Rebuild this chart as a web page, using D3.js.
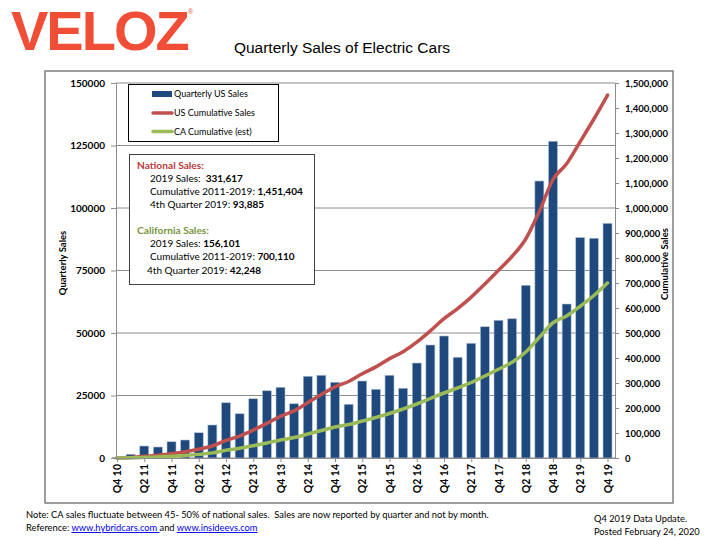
<!DOCTYPE html>
<html><head><meta charset="utf-8">
<script src="https://cdn.jsdelivr.net/npm/d3@7"></script>
<style>
html,body{margin:0;padding:0;background:#fff;}
svg{display:block;}
</style></head>
<body>
<svg id="chart" width="716" height="537"></svg>
<script>
const categories = ["Q4 10","Q1 11","Q2 11","Q3 11","Q4 11","Q1 12","Q2 12","Q3 12","Q4 12",
  "Q1 13","Q2 13","Q3 13","Q4 13","Q1 14","Q2 14","Q3 14","Q4 14","Q1 15","Q2 15","Q3 15","Q4 15",
  "Q1 16","Q2 16","Q3 16","Q4 16","Q1 17","Q2 17","Q3 17","Q4 17","Q1 18","Q2 18","Q3 18","Q4 18",
  "Q1 19","Q2 19","Q3 19","Q4 19"];
const quarterlyUS = [350,1500,4800,4400,6500,7200,10100,13200,22100,
  17700,23700,26900,28300,21700,32700,33100,30300,21500,30800,27500,33100,
  27900,38000,45200,48800,40300,45900,52500,55100,55700,69100,110800,126700,
  61600,88200,87900,93885];
const cumulativeUS = [0,1900,6700,11100,17600,24800,34900,48100,70200,
  87900,111600,138500,166800,188500,221200,254300,284600,306100,336900,364400,397500,
  425400,463400,508600,557400,597700,643600,696100,751200,806900,876000,987000,1114000,
  1177000,1266000,1356000,1451404];
const cumulativeCA = [0,700,2500,4500,7000,10000,14500,20500,31000,
  39000,49000,60000,72000,82000,96000,110000,124000,134000,148000,162000,178000,
  196000,216000,238000,260000,280000,302000,328000,355000,383000,424000,483000,541000,
  568000,607000,650000,700110];
const leftTicks = [0,25000,50000,75000,100000,125000,150000];
const rightTicks = [0,100000,200000,300000,400000,500000,600000,700000,800000,900000,1000000,1100000,1200000,1300000,1400000,1500000];
const seriesNames = ["Quarterly US Sales","US Cumulative Sales","CA Cumulative (est)"];
const nationalLines = [["2019 Sales:  ","331,617"],["Cumulative 2011-2019: ","1,451,404"],["4th Quarter 2019: ","93,885"]];
const californiaLines = [["2019 Sales: ","156,101"],["Cumulative 2011-2019: ","700,110"],["4th Quarter 2019: ","42,248"]];

const BAR = "#1F497D", RED = "#C0504D", GREEN = "#9BBB59";
const svg = d3.select("#chart");
const F = "Lato, 'Open Sans', sans-serif";

// outer frame
svg.append("rect").attr("x",45).attr("y",71).attr("width",628).attr("height",432)
  .attr("fill","#fff").attr("stroke","#7f7f7f").attr("stroke-width",1.5);

// logo
svg.append("text").attr("x",11).attr("y",50)
  .attr("font-family","'Liberation Sans', Arial, sans-serif").attr("font-weight","bold")
  .attr("font-size",56).attr("fill","#F04E37").attr("letter-spacing",-2).text("VELOZ");
svg.append("text").attr("x",188).attr("y",14).attr("font-family","'Liberation Sans', Arial")
  .attr("font-size",7).attr("fill","#F04E37").text("®");

// title
svg.append("text").attr("x",342).attr("y",53).attr("text-anchor","middle")
  .attr("font-family","'Liberation Sans', Arial, sans-serif").attr("font-size",15.5).attr("fill","#000")
  .text("Quarterly Sales of Electric Cars");

const x = d3.scalePoint().domain(categories).range([117, 607.5]);
const yL = d3.scaleLinear().domain([0,150000]).range([458,83]);
const yR = d3.scaleLinear().domain([0,1500000]).range([458,83]);
const left = 116, right = 615;

// gridlines
svg.append("g").selectAll("line").data(leftTicks).join("line")
  .attr("x1",left).attr("x2",right).attr("y1",d=>yL(d)).attr("y2",d=>yL(d))
  .attr("stroke","#8c8c8c").attr("stroke-width",1);

// bars
const bw = 9;
svg.append("g").selectAll("rect").data(quarterlyUS).join("rect")
  .attr("x",(d,i)=>x(categories[i])-bw/2).attr("width",bw)
  .attr("y",d=>yL(d)).attr("height",d=>yL(0)-yL(d))
  .attr("fill",BAR).attr("stroke","#b4c4d8").attr("stroke-width",0.6);

// lines
const line = d3.line().x((d,i)=>x(categories[i])).y(d=>yR(d)).curve(d3.curveMonotoneX);
svg.append("path").datum(cumulativeUS).attr("d",line).attr("fill","none")
  .attr("stroke",RED).attr("stroke-width",3.5).attr("stroke-linejoin","round").attr("stroke-linecap","round");
svg.append("path").datum(cumulativeCA).attr("d",line).attr("fill","none")
  .attr("stroke",GREEN).attr("stroke-width",3.5).attr("stroke-linejoin","round").attr("stroke-linecap","round");

// axes
const axisColor = "#8c8c8c";
const gL = svg.append("g").attr("transform",`translate(${left},0)`)
  .call(d3.axisLeft(yL).tickValues(leftTicks).tickSize(5).tickPadding(6).tickFormat(d3.format("d")));
const gR = svg.append("g").attr("transform",`translate(${right},0)`)
  .call(d3.axisRight(yR).tickValues(rightTicks).tickSize(4).tickPadding(6).tickFormat(d3.format(",")));
const labeled = categories.filter((c,i)=>i%2===0);
const gX = svg.append("g").attr("transform",`translate(0,458)`)
  .call(d3.axisBottom(x).tickValues(labeled).tickSize(4).tickPadding(4));
gX.select(".domain").attr("d",`M${left},0.5H${right}`);
[gL,gR,gX].forEach(g=>{
  g.selectAll(".domain").attr("stroke",axisColor);
  g.selectAll(".tick line").attr("stroke",axisColor);
  g.selectAll("text").attr("font-family",F).attr("font-weight","bold").attr("fill","#000");
});
gL.selectAll("text").attr("font-size",10);
gR.selectAll("text").attr("font-size",9.5);
gX.selectAll("text").attr("font-size",10.5)
  .attr("transform","rotate(-90)").attr("text-anchor","end")
  .attr("x",-6).attr("y",0).attr("dy","0.35em");

// axis titles
svg.append("text").attr("transform","translate(66,263) rotate(-90)").attr("text-anchor","middle")
  .attr("font-family",F).attr("font-weight","bold").attr("font-size",9.5).text("Quarterly Sales");
svg.append("text").attr("transform","translate(668,264) rotate(-90)").attr("text-anchor","middle")
  .attr("font-family",F).attr("font-weight","bold").attr("font-size",9.5).text("Cumulative Sales");

// legend
const lg = svg.append("g");
lg.append("rect").attr("x",128.5).attr("y",84.5).attr("width",150).attr("height",57)
  .attr("fill","#fff").attr("stroke","#000").attr("stroke-width",1);
const legY = [94,113,131.5];
lg.append("rect").attr("x",152).attr("y",legY[0]-3).attr("width",20).attr("height",6).attr("fill",BAR);
lg.append("line").attr("x1",153).attr("x2",172).attr("y1",legY[1]).attr("y2",legY[1])
  .attr("stroke",RED).attr("stroke-width",3.5).attr("stroke-linecap","round");
lg.append("line").attr("x1",153).attr("x2",172).attr("y1",legY[2]).attr("y2",legY[2])
  .attr("stroke",GREEN).attr("stroke-width",3.5).attr("stroke-linecap","round");
lg.selectAll("text.leg").data(seriesNames).join("text").attr("class","leg")
  .attr("x",174).attr("y",(d,i)=>legY[i]+3).attr("font-family",F).attr("font-size",9).text(d=>d);

// info box
const ib = svg.append("g");
ib.append("rect").attr("x",129.5).attr("y",154.5).attr("width",185).attr("height",130)
  .attr("fill","#fff").attr("stroke","#404040").attr("stroke-width",1);
ib.append("text").attr("x",137).attr("y",169).attr("font-family",F).attr("font-weight","bold")
  .attr("font-size",10.2).attr("fill","#B83A3A").text("National Sales:");
const natY = [182,195,208];
nationalLines.forEach((l,i)=>{
  const t = ib.append("text").attr("x",150).attr("y",natY[i]).attr("font-family",F).attr("font-size",10).attr("fill","#000");
  t.append("tspan").style("white-space","pre").text(l[0]);
  t.append("tspan").attr("font-weight","bold").text(l[1]);
});
ib.append("text").attr("x",137).attr("y",234).attr("font-family",F).attr("font-weight","bold")
  .attr("font-size",10.2).attr("fill","#77933C").text("California Sales:");
const caY = [247,260,273.5];
const caX = [150,150,147];
californiaLines.forEach((l,i)=>{
  const t = ib.append("text").attr("x",caX[i]).attr("y",caY[i]).attr("font-family",F).attr("font-size",10).attr("fill","#000");
  t.append("tspan").style("white-space","pre").text(l[0]);
  t.append("tspan").attr("font-weight","bold").text(l[1]);
});

// footer
const ff = svg.append("g").attr("font-family",F).attr("font-size",9.3).attr("fill","#000");
ff.append("text").attr("x",26).attr("y",518).style("white-space","pre")
  .text("Note: CA sales fluctuate between 45- 50% of national sales.  Sales are now reported by quarter and not by month.");
const ref = ff.append("text").attr("x",26).attr("y",531);
ref.append("tspan").text("Reference: ");
ref.append("tspan").attr("fill","#0000EE").attr("text-decoration","underline").text("www.hybridcars.com ");
ref.append("tspan").text("and ");
ref.append("tspan").attr("fill","#0000EE").attr("text-decoration","underline").text("www.insideevs.com");
ff.append("text").attr("x",594).attr("y",522).text("Q4 2019 Data Update.");
ff.append("text").attr("x",594).attr("y",535).text("Posted February 24, 2020");
</script>
</body></html>
